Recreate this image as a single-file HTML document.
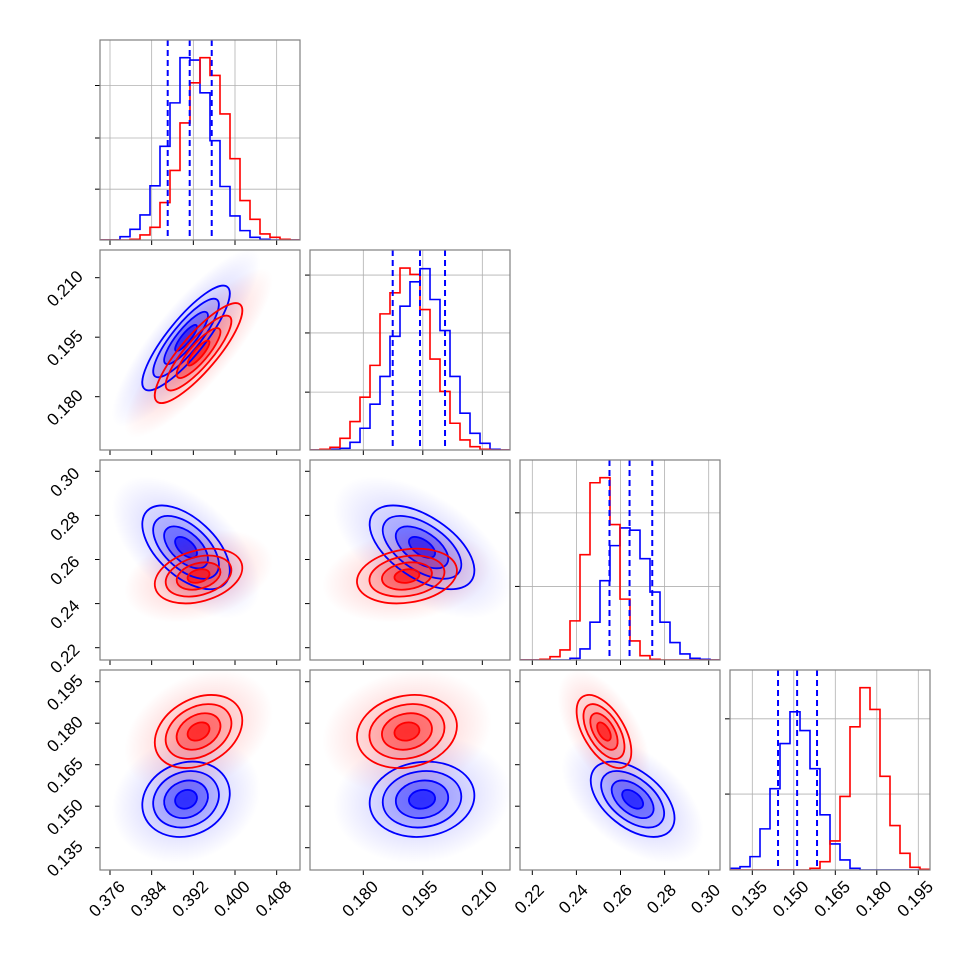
<!DOCTYPE html>
<html><head><meta charset="utf-8"><style>
html,body{margin:0;padding:0;background:#fff;}
svg{display:block;font-family:"Liberation Sans","DejaVu Sans",sans-serif;}
</style></head><body>
<svg id="fig" width="970" height="970" viewBox="0 0 970 970" xmlns="http://www.w3.org/2000/svg">
<defs>
<radialGradient id="gb"><stop offset="0" stop-color="#0000ff" stop-opacity="0.26"/><stop offset="0.6" stop-color="#0000ff" stop-opacity="0.1"/><stop offset="1" stop-color="#0000ff" stop-opacity="0"/></radialGradient>
<radialGradient id="gr"><stop offset="0" stop-color="#ff0000" stop-opacity="0.26"/><stop offset="0.6" stop-color="#ff0000" stop-opacity="0.1"/><stop offset="1" stop-color="#ff0000" stop-opacity="0"/></radialGradient>
</defs>
</svg>
<script>
// ---- data ----
const paramRanges = [[0.37408,0.41248],[0.16656,0.21698],[0.21442,0.30512],[0.12694,0.19923]];
const tickValues = [[0.376,0.384,0.392,0.400,0.408],[0.180,0.195,0.210],[0.22,0.24,0.26,0.28,0.30],[0.135,0.150,0.165,0.180,0.195]];
const tickLabels = [["0.376","0.384","0.392","0.400","0.408"],["0.180","0.195","0.210"],["0.22","0.24","0.26","0.28","0.30"],["0.135","0.150","0.165","0.180","0.195"]];
const blueHist0 = [0,0,10,32,75,162,280,410,545,538,440,297,160,72,28,8,2,0,0,0];
const redHist0  = [0,0,0,2,15,38,112,208,350,470,545,492,377,243,118,62,18,8,2,0];
const blueHist1 = [0,0,2,5,23,65,137,220,340,430,503,542,450,357,220,110,50,20,2,0];
const redHist1  = [0,2,8,35,85,158,253,407,470,544,525,420,272,175,80,30,10,2,0,0];
const blueHist2 = [0,0,0,0,0,5,33,113,237,342,395,388,303,203,113,52,18,5,2,0];
const redHist2  = [0,0,2,10,30,117,315,530,545,405,182,57,13,2,0,0,0,0,0,0];
const blueHist3 = [5,10,40,123,243,378,473,417,303,165,78,30,5,0,0,0,0,0,0,0];
const redHist3  = [0,0,0,0,0,0,0,0,5,25,87,220,428,545,480,280,133,50,8,2];
const histYMax = 598;
const histYTicks = [[152,305,462],[173,350,523],[220,440],[227,452]];
const blueQuantiles = [[0.38708,0.3913,0.39553],[0.18741,0.19429,0.2006],[0.2550,0.2641,0.2744],[0.1443,0.1512,0.1584]];
const blueMeans = [0.3906,0.1948,0.2655,0.1525];
const redMeans  = [0.3930,0.1910,0.2525,0.1770];
const blueSds = [0.0042,0.0066,0.0095,0.0068];
const redSds  = [0.0042,0.0063,0.0062,0.0066];
// correlations keyed "i-j"
const blueCorr = {"0-1":0.85,"0-2":-0.55,"1-2":-0.55,"0-3":0.15,"1-3":0.1,"2-3":-0.5};
const redCorr  = {"0-1":0.85,"0-2":0.3,"1-2":0.2,"0-3":0.3,"1-3":0.15,"2-3":-0.55};
const contourSigmas = [0.5,1,1.5,2];

// ---- layout ----
const NS="http://www.w3.org/2000/svg";
const svg=document.getElementById('fig');
const defs=svg.querySelector('defs');
const P0X=100,P0Y=40,STEP=210,SZ=200,FS=17;
function mk(tag,attrs,parent){const e=document.createElementNS(NS,tag);for(const k in attrs)e.setAttribute(k,attrs[k]);(parent||svg).appendChild(e);return e;}
function xs(p,c){const r=paramRanges[p];const x0=P0X+STEP*c;return v=>x0+(v-r[0])/(r[1]-r[0])*SZ;}
function ys(p,row){const r=paramRanges[p];const y0=P0Y+STEP*row;return v=>y0+SZ-(v-r[0])/(r[1]-r[0])*SZ;}
const hists=[[blueHist0,redHist0],[blueHist1,redHist1],[blueHist2,redHist2],[blueHist3,redHist3]];

for(let row=0;row<4;row++){
  for(let col=0;col<=row;col++){
    const x0=P0X+STEP*col,y0=P0Y+STEP*row;
    const g=mk('g',{});
    
    
    const cid='clip'+row+col;
    const cp=mk('clipPath',{id:cid},defs);mk('rect',{x:x0,y:y0,width:SZ,height:SZ},cp);
    const X=xs(col,col);
    if(row===col){
      const p=row;
      const Yh=h=>y0+SZ-h/histYMax*SZ;
      tickValues[p].forEach(v=>{const gl=mk('line',{x1:X(v),x2:X(v),y1:y0,y2:y0+SZ,stroke:'#b0b0b0','stroke-width':0.8},g);
        });
      histYTicks[p].forEach(h=>{const gl=mk('line',{x1:x0,x2:x0+SZ,y1:Yh(h),y2:Yh(h),stroke:'#b0b0b0','stroke-width':0.8},g);
        
        const tk=mk('line',{x1:x0-5,x2:x0,y1:Yh(h),y2:Yh(h),stroke:'#000','stroke-width':1},g);
        });
      const cg=mk('g',{'clip-path':'url(#'+cid+')'},g);
      [[hists[p][0],'#0000ff','blue'],[hists[p][1],'#ff0000','red']].forEach(([arr,colr,nm])=>{
        const r=paramRanges[p];const bw=(r[1]-r[0])/arr.length;
        let d='M'+X(r[0])+','+Yh(0);
        arr.forEach((h,i)=>{d+=' L'+X(r[0]+i*bw)+','+Yh(h)+' L'+X(r[0]+(i+1)*bw)+','+Yh(h);});
        d+=' L'+X(r[1])+','+Yh(0);
        const pa=mk('path',{d:d,fill:'none',stroke:colr,'stroke-width':1.6},cg);
        
      });
      blueQuantiles[p].forEach(q=>{const l=mk('line',{x1:X(q),x2:X(q),y1:y0,y2:y0+SZ,stroke:'#0000ff','stroke-width':2,'stroke-dasharray':'6,4'},g);
        });
    } else {
      const Y=ys(row,row);
      const cg=mk('g',{'clip-path':'url(#'+cid+')'},g);
      const key=col+'-'+row;
      const sets=[['blue',blueMeans,blueSds,blueCorr,'#0000ff','gb'],['red',redMeans,redSds,redCorr,'#ff0000','gr']];
      const geo=sets.map(([nm,M,S,C,colr,grad])=>{
        const cx=X(M[col]),cy=Y(M[row]);
        const rc=paramRanges[col],rr=paramRanges[row];
        const sx=S[col]/(rc[1]-rc[0])*SZ, sy=S[row]/(rr[1]-rr[0])*SZ;
        const rho=-C[key];
        const a=sx*sx,b=sy*sy,c=rho*sx*sy;
        const th=0.5*Math.atan2(2*c,a-b)*180/Math.PI;
        const m=(a+b)/2,dd=Math.sqrt(((a-b)/2)**2+c*c);
        return {nm,colr,grad,cx,cy,l1:Math.sqrt(m+dd),l2:Math.sqrt(m-dd),tr:'rotate('+th+' '+cx+' '+cy+')'};
      });
      geo.forEach(o=>{
        const cl=mk('ellipse',{cx:o.cx,cy:o.cy,rx:3.4*o.l1,ry:3.4*o.l2,transform:o.tr,fill:'url(#'+o.grad+')'},cg);
        
        const fills=[0.05,0.14,0.3,0.55];
        [2,1.5,1,0.5].forEach((s,i)=>{const f=mk('ellipse',{cx:o.cx,cy:o.cy,rx:s*o.l1,ry:s*o.l2,transform:o.tr,fill:o.colr,'fill-opacity':fills[i]},cg);
          });
      });
      geo.forEach(o=>{
        contourSigmas.forEach(s=>{const e=mk('ellipse',{cx:o.cx,cy:o.cy,rx:s*o.l1,ry:s*o.l2,transform:o.tr,fill:'none',stroke:o.colr,'stroke-width':1.8},cg);
          });
      });
      tickValues[row].forEach(v=>{const tk=mk('line',{x1:x0-5,x2:x0,y1:Y(v),y2:Y(v),stroke:'#000','stroke-width':1},g);
        });
      if(col===0){
        tickValues[row].forEach((v,i)=>{const tx=65,ty=Y(v)+11;
          const t=mk('text',{x:tx,y:ty,'text-anchor':'middle','dominant-baseline':'central','font-size':FS,transform:'rotate(-45 '+tx+' '+ty+')'},svg);
          t.textContent=tickLabels[row][i];
          });
      }
    }
    tickValues[col].forEach(v=>{const tk=mk('line',{x1:X(v),x2:X(v),y1:y0+SZ,y2:y0+SZ+5,stroke:'#000','stroke-width':1},g);
      });
    if(row===3){
      tickValues[col].forEach((v,i)=>{const tx=X(v)-3,ty=899;
        const t=mk('text',{x:tx,y:ty,'text-anchor':'middle','dominant-baseline':'central','font-size':FS,transform:'rotate(-45 '+tx+' '+ty+')'},svg);
        t.textContent=tickLabels[col][i];
        });
    }
    const fr=mk('rect',{x:x0,y:y0,width:SZ,height:SZ,fill:'none',stroke:'#808080','stroke-width':1.2},g);
    
  }
}
</script>
</body></html>
